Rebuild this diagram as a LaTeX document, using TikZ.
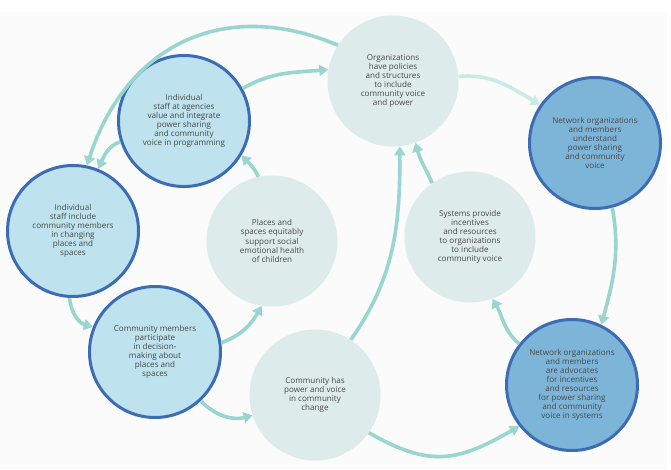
\documentclass[tikz,border=0pt]{standalone}
\usepackage{fontspec}
\setmainfont{Open Sans}
\usetikzlibrary{arrows.meta}
\definecolor{bgpaper}{HTML}{FAFBFA}
\definecolor{lightblue}{HTML}{BEE2EE}
\definecolor{midblue}{HTML}{7DB5D9}
\definecolor{ringblue}{HTML}{3C6DB4}
\definecolor{mist}{HTML}{DDEBEA}
\definecolor{teal}{HTML}{9AD6D0}
\definecolor{paleteal}{HTML}{C8EBE7}
\definecolor{textgray}{HTML}{484848}
\begin{document}
\begin{tikzpicture}[x=1pt, y=1pt,
    bubble/.style={circle, minimum size=131pt, inner sep=0pt, align=center,
      text=textgray, font=\fontsize{8.1}{9.1}\selectfont},
    staff/.style={bubble, fill=lightblue, draw=ringblue, line width=3pt},
    network/.style={bubble, fill=midblue, draw=ringblue, line width=3pt},
    outcome/.style={bubble, fill=mist},
    flow/.style={draw=teal, line width=3.6pt, -{Triangle[width=11pt,length=9pt]}},
    faint/.style={flow, draw=paleteal}]
    \useasboundingbox (0,0) rectangle (671,469);
    \fill[bgpaper] (0,0) rectangle (667,457);

    \node[outcome] (org) at (393,388) {Organizations\\have policies\\and structures\\to include\\community voice\\and power};
    \node[staff] (agency) at (184,348) {Individual\\staff at agencies\\value and integrate\\power sharing\\and community\\voice in programming};
    \node[staff] (include) at (73,238) {Individual\\staff include\\community members\\in changing\\places and\\spaces};
    \node[outcome] (places) at (272,228) {Places and\\spaces equitably\\support social\\emotional health\\of children};
    \node[staff] (members) at (155,117) {Community members\\participate\\in decision-\\making about\\places and\\spaces};
    \node[outcome] (voice) at (315,74) {Community has\\power and voice\\in community\\change};
    \node[outcome] (systems) at (470,232) {Systems provide\\incentives\\and resources\\to organizations\\to include\\community voice};
    \node[network] (understand) at (595,326) {Network organizations\\and members\\understand\\power sharing\\and community\\voice};
    \node[network] (advocate) at (572,84) {Network organizations\\and members\\are advocates\\for incentives\\and resources\\for power sharing\\and community\\voice in systems};

    \draw[flow] (org.147) to[out=157, in=72, looseness=1.15] (include.78);
    \draw[flow] (agency.198) to[out=200, in=65] (include.68);
    \draw[flow] (agency.29) to[out=30, in=185] (org.170);
    \draw[flow] (places.102) to[out=115, in=-45] (agency.-31);
    \draw[flow] (include.-93) to[out=-85, in=165] (members.158);
    \draw[flow] (members.8) to[out=20, in=240] (places.-99);
    \draw[flow] (members.-47) to[out=-45, in=195] (voice.198);
    \draw[flow] (voice.57) to[out=55, in=-90] (org.-84);
    \draw[flow] (voice.-35) to[out=-30, in=-150, looseness=1.2] (advocate.218);
    \draw[flow] (advocate.142) to[out=140, in=-60] (systems.-70);
    \draw[flow] (systems.125) to[out=115, in=-75] (org.-70);
    \draw[faint] (org.4) to[out=5, in=150] (understand.145);
    \draw[flow] (understand.-75) to[out=-80, in=75] (advocate.64);
\end{tikzpicture}
\end{document}
